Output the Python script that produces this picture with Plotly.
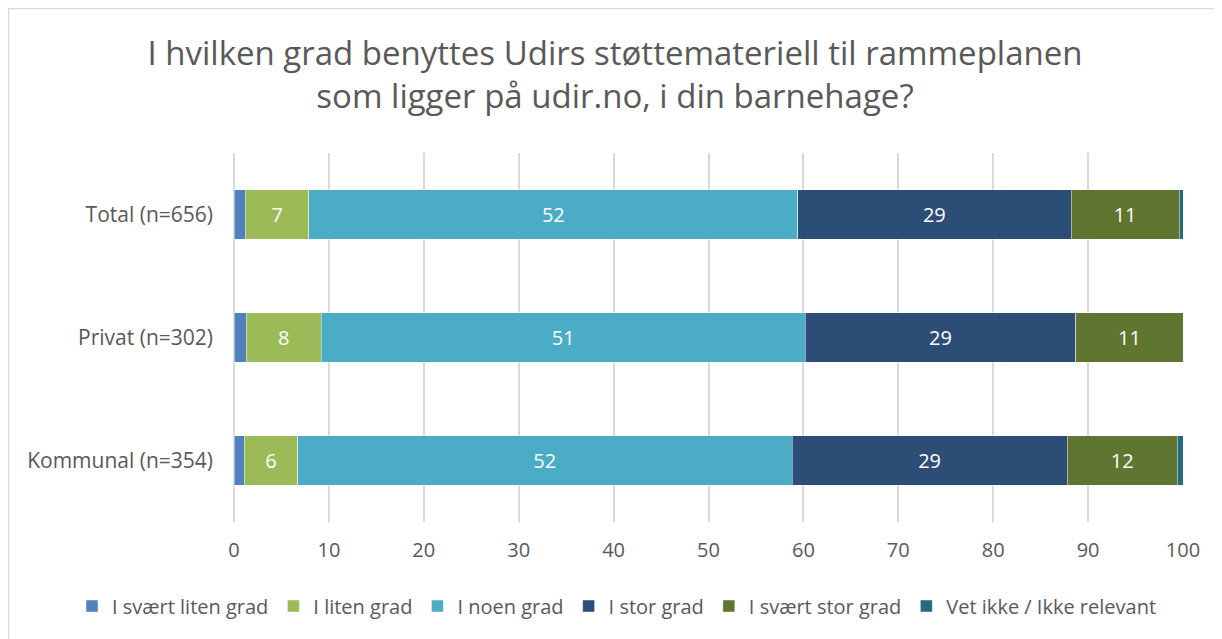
import plotly.graph_objects as go

categories = ["Total (n=656)", "Privat (n=302)", "Kommunal (n=354)"]
series_names = ["I svært liten grad", "I liten grad", "I noen grad", "I stor grad",
                "I svært stor grad", "Vet ikke / Ikke relevant"]
svaert_liten = [1.2, 1.3, 1.1]
liten = [6.7, 7.9, 5.6]
noen = [51.5, 51.0, 52.1]
stor = [28.8, 28.5, 29.0]
svaert_stor = [11.4, 11.3, 11.6]
vet_ikke = [0.4, 0.0, 0.6]
x_ticks = [0, 10, 20, 30, 40, 50, 60, 70, 80, 90, 100]
title_text = "I hvilken grad benyttes Udirs støttemateriell til rammeplanen<br>som ligger på udir.no, i din barnehage?"

values = [svaert_liten, liten, noen, stor, svaert_stor, vet_ikke]
colors = ["#4f81bd", "#9bbb59", "#4bacc6", "#2c4d75", "#5f7530", "#276a7c"]
show_labels = [False, True, True, True, True, False]

FONT = "Open Sans"
W, H = 1214, 631
ML, MR, MT, MB = 226, 39, 145, 117
PW = W - ML - MR
PH = H - MT - MB

fig = go.Figure()
for name, vals, col, lab in zip(series_names, values, colors, show_labels):
    fig.add_trace(go.Bar(
        y=categories, x=vals, name=name, orientation="h",
        marker=dict(color=col, line=dict(color="rgba(255,255,255,0.6)", width=0.8)),
        text=[f"{round(v + 1e-9):.0f}" for v in vals] if lab else None,
        textposition="inside" if lab else "none",
        insidetextanchor="middle",
        textfont=dict(color="white", size=20, family=FONT),
        hoverinfo="x+name",
    ))

fig.update_layout(
    barmode="stack",
    bargap=0.6,
    width=W, height=H,
    margin=dict(l=ML, r=MR, t=MT, b=MB),
    paper_bgcolor="white", plot_bgcolor="white",
    font=dict(family=FONT, color="#595959", size=20),
    title=dict(
        text=title_text,
        x=0.5, xanchor="center", xref="container",
        y=1 - 57 / H, yanchor="middle", yref="container",
        font=dict(size=33, color="#595959", family=FONT),
    ),
    xaxis=dict(
        range=[0, 100], tickvals=x_ticks, showgrid=True, gridcolor="#d9d9d9", gridwidth=1.5,
        zeroline=True, zerolinecolor="#d9d9d9", zerolinewidth=1.5,
        showline=False, ticks="", ticklabelstandoff=14,
        tickfont=dict(size=20, color="#595959"),
    ),
    yaxis=dict(
        categoryorder="array", categoryarray=categories[::-1], autorange=False,
        range=[-0.5, 2.5], showgrid=False, ticks="", ticklabelstandoff=20,
        tickfont=dict(size=21, color="#595959"),
    ),
    legend=dict(
        orientation="h", x=(64 - ML) / PW, xanchor="left", y=-84 / PH, yanchor="middle",
        font=dict(size=20, color="#595959"), traceorder="normal",
    ),
    shapes=[dict(type="rect", xref="paper", yref="paper",
                 x0=(0.5 - ML) / PW, x1=(W + 20 - ML) / PW,
                 y0=-(MB + 20) / PH, y1=1 + (MT - 0.5) / PH,
                 line=dict(color="#d9d9d9", width=1.5), layer="below")],
)

fig.write_html("out.html")
